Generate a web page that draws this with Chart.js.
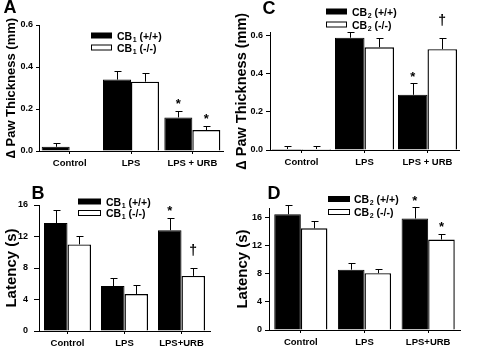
<!DOCTYPE html>
<html>
<head>
<meta charset="utf-8">
<script src="https://cdn.jsdelivr.net/npm/chart.js@4.4.0/dist/chart.umd.min.js"></script>
<style>
  body { margin: 0; background: #fff; width: 480px; height: 348px; position: relative; overflow: hidden; }
  canvas { position: absolute; }
</style>
</head>
<body>
<canvas id="panelA" width="240" height="174" style="left:0;top:0"></canvas>
<canvas id="panelB" width="240" height="174" style="left:0;top:174px"></canvas>
<canvas id="panelC" width="248" height="174" style="left:232px;top:0"></canvas>
<canvas id="panelD" width="248" height="174" style="left:232px;top:174px"></canvas>
<script>
// Paw oedema (top) and thermal latency (bottom) for CB1 and CB2 mice
const thicknessGroups = ['Control', 'LPS', 'LPS + URB'];
const latencyGroups = ['Control', 'LPS', 'LPS+URB'];
const thicknessTicks = [0, 0.2, 0.4, 0.6];
const latencyTicks = [0, 4, 8, 12, 16];

// A - CB1 paw thickness (mm)
const cb1ThickWt = [0.02, 0.34, 0.16];
const cb1ThickWtErr = [0.02, 0.04, 0.03];
const cb1ThickKo = [0, 0.33, 0.10];
const cb1ThickKoErr = [0, 0.04, 0.02];
const cb1ThickWtMarks = ['', '', '*'];
const cb1ThickKoMarks = ['', '', '*'];

// B - CB1 latency (s)
const cb1LatWt = [13.7, 5.7, 12.8];
const cb1LatWtErr = [1.7, 1.0, 1.6];
const cb1LatKo = [11.0, 4.7, 7.0];
const cb1LatKoErr = [1.1, 1.2, 1.0];
const cb1LatWtMarks = ['', '', '*'];
const cb1LatKoMarks = ['', '', '†'];

// C - CB2 paw thickness (mm)
const cb2ThickWt = [0.005, 0.59, 0.29];
const cb2ThickWtErr = [0.015, 0.03, 0.06];
const cb2ThickKo = [0.005, 0.54, 0.53];
const cb2ThickKoErr = [0.015, 0.05, 0.06];
const cb2ThickWtMarks = ['', '', '*'];
const cb2ThickKoMarks = ['', '', '†'];

// D - CB2 latency (s)
const cb2LatWt = [16.5, 8.6, 15.9];
const cb2LatWtErr = [1.3, 1.0, 1.6];
const cb2LatKo = [14.5, 8.1, 12.9];
const cb2LatKoErr = [1.0, 0.6, 0.8];
const cb2LatWtMarks = ['', '', '*'];
const cb2LatKoMarks = ['', '', '*'];

const genotypes = ['(+/+)', '(-/-)'];

const FONT = "'Liberation Sans', Arial, Helvetica, sans-serif";
Chart.defaults.font.family = FONT;
Chart.defaults.color = '#000';

// error bars, significance marks, legend and panel letter
const decor = {
  id: 'decor',
  afterDatasetsDraw(chart, args, o) {
    const ctx = chart.ctx;
    const ys = chart.scales.y;
    ctx.save();
    ctx.strokeStyle = '#000';
    ctx.fillStyle = '#000';
    ctx.lineWidth = 1;
    chart.data.datasets.forEach((ds, i) => {
      chart.getDatasetMeta(i).data.forEach((bar, j) => {
        const v = ds.data[j], e = ds.errors[j];
        if (e) {
          const x = Math.round(bar.x) + 0.5;
          const y0 = ys.getPixelForValue(v);
          const y1 = Math.round(ys.getPixelForValue(v + e)) + 0.5;
          ctx.beginPath();
          ctx.moveTo(x, y0);
          ctx.lineTo(x, y1);
          ctx.moveTo(x - 3, y1);
          ctx.lineTo(x + 4, y1);
          ctx.stroke();
        }
        const m = ds.marks[j];
        if (m) {
          const top = ys.getPixelForValue(v + e);
          const star = m === '*';
          const fs = star ? 13 : 14;
          const cy = top - (star ? 10 : 17);
          ctx.font = 'bold ' + fs + 'px ' + FONT;
          ctx.textAlign = 'center';
          ctx.textBaseline = 'alphabetic';
          ctx.fillText(m, bar.x, cy + (star ? 0.56 : 0.3) * fs);
        }
      });
    });

    // legend
    const lg = o.legend;
    ctx.textAlign = 'left';
    ctx.textBaseline = 'alphabetic';
    chart.data.datasets.forEach((ds, i) => {
      const cy = lg.y + i * lg.step;
      ctx.fillStyle = ds.backgroundColor;
      ctx.fillRect(lg.x + 0.5, cy - 2.5, lg.w, 5);
      ctx.strokeRect(lg.x + 0.5, cy - 2.5, lg.w, 5);
      ctx.fillStyle = '#000';
      let tx = lg.x + lg.w + lg.gap;
      ctx.font = 'bold 10.5px ' + FONT;
      ctx.fillText('CB', tx, cy + 4);
      tx += ctx.measureText('CB').width;
      ctx.font = 'bold 7px ' + FONT;
      ctx.fillText(o.sub, tx + 0.5, cy + 6);
      tx += ctx.measureText(o.sub).width + 0.5;
      ctx.font = 'bold 10.5px ' + FONT;
      ctx.fillText(' ' + ds.label, tx, cy + 4);
    });

    // panel letter
    ctx.font = 'bold 18px ' + FONT;
    ctx.textAlign = 'center';
    ctx.textBaseline = 'middle';
    ctx.fillText(o.letter, o.lx, o.ly);
    ctx.restore();
  }
};

function makePanel(id, c) {
  return new Chart(document.getElementById(id), {
    type: 'bar',
    data: {
      labels: c.labels,
      datasets: [
        { label: genotypes[0], data: c.wt, errors: c.wtErr, marks: c.wtMarks,
          backgroundColor: '#000', borderColor: '#000', borderWidth: 1 },
        { label: genotypes[1], data: c.ko, errors: c.koErr, marks: c.koMarks,
          backgroundColor: '#fff', borderColor: '#000', borderWidth: 1.4 }
      ]
    },
    options: {
      responsive: false,
      animation: false,
      events: [],
      layout: { padding: c.padding },
      datasets: { bar: { barPercentage: 1, categoryPercentage: c.catPct } },
      plugins: {
        legend: { display: false },
        tooltip: { enabled: false },
        decor: c.decor
      },
      scales: {
        x: {
          afterFit: s => { s.height = c.xHeight; },
          ticks: { font: { size: 9.5, weight: 'bold' }, color: '#000', padding: 4, autoSkip: false, maxRotation: 0 },
          grid: { offset: false, drawOnChartArea: false, drawTicks: true, tickLength: 3, color: '#000' },
          border: { display: true, color: '#000', width: 1 }
        },
        y: {
          min: 0,
          max: c.yMax,
          afterBuildTicks: s => { s.ticks = c.yTicks.map(v => ({ value: v })); },
          afterFit: s => { s.width = c.yWidth; },
          ticks: { font: { size: 9, weight: 'bold' }, color: '#000', padding: c.yTickPad,
                   callback: v => c.fmt(v) },
          grid: { drawOnChartArea: false, drawTicks: true, tickLength: c.yTickLen, color: '#000' },
          border: { display: true, color: '#000', width: 1 },
          title: { display: true, text: c.yTitle, color: '#000',
                   font: { size: c.titleSize, weight: 'bold' },
                   padding: { top: c.titlePad, bottom: 0 } }
        }
      }
    },
    plugins: [decor]
  });
}

const oneDecimal = v => v.toFixed(1);
const whole = v => String(v);

makePanel('panelA', {
  labels: thicknessGroups, wt: cb1ThickWt, wtErr: cb1ThickWtErr, ko: cb1ThickKo, koErr: cb1ThickKoErr,
  wtMarks: cb1ThickWtMarks, koMarks: cb1ThickKoMarks,
  yMax: 0.6, yTicks: thicknessTicks, fmt: oneDecimal, yTitle: '\u2206 Paw Thickness (mm)',
  titleSize: 13, titlePad: 4, yWidth: 39, yTickPad: 3, yTickLen: 3, xHeight: 23,
  padding: { top: 25, right: 17, left: 0, bottom: 0 }, catPct: 0.913,
  decor: { letter: 'A', lx: 10, ly: 8, sub: '1', legend: { x: 91, y: 35.5, step: 12, w: 20, gap: 6 } }
});

makePanel('panelB', {
  labels: latencyGroups, wt: cb1LatWt, wtErr: cb1LatWtErr, ko: cb1LatKo, koErr: cb1LatKoErr,
  wtMarks: cb1LatWtMarks, koMarks: cb1LatKoMarks,
  yMax: 16, yTicks: latencyTicks, fmt: whole, yTitle: 'Latency (s)',
  titleSize: 15, titlePad: 3, yWidth: 39, yTickPad: 6, yTickLen: 5, xHeight: 17,
  padding: { top: 31, right: 30, left: 0, bottom: 0 }, catPct: 0.825,
  decor: { letter: 'B', lx: 38, ly: 20, sub: '1', legend: { x: 78, y: 27.5, step: 11.5, w: 22, gap: 6 } }
});

makePanel('panelC', {
  labels: thicknessGroups, wt: cb2ThickWt, wtErr: cb2ThickWtErr, ko: cb2ThickKo, koErr: cb2ThickKoErr,
  wtMarks: cb2ThickWtMarks, koMarks: cb2ThickKoMarks,
  yMax: 0.62, yTicks: thicknessTicks, fmt: oneDecimal, yTitle: '\u2206 Paw Thickness (mm)',
  titleSize: 14.5, titlePad: 1, yWidth: 38, yTickPad: 3, yTickLen: 4, xHeight: 24,
  padding: { top: 32, right: 21, left: 0, bottom: 0 }, catPct: 0.937,
  decor: { letter: 'C', lx: 37, ly: 9, sub: '2', legend: { x: 94, y: 11.5, step: 13, w: 20, gap: 6 } }
});

makePanel('panelD', {
  labels: latencyGroups, wt: cb2LatWt, wtErr: cb2LatWtErr, ko: cb2LatKo, koErr: cb2LatKoErr,
  wtMarks: cb2LatWtMarks, koMarks: cb2LatKoMarks,
  yMax: 17.4, yTicks: latencyTicks, fmt: whole, yTitle: 'Latency (s)',
  titleSize: 15, titlePad: 2, yWidth: 37, yTickPad: 3, yTickLen: 4, xHeight: 18,
  padding: { top: 34, right: 20, left: 0, bottom: 0 }, catPct: 0.835,
  decor: { letter: 'D', lx: 42, ly: 20, sub: '2', legend: { x: 96, y: 25, step: 13, w: 21, gap: 5 } }
});
</script>
</body>
</html>
